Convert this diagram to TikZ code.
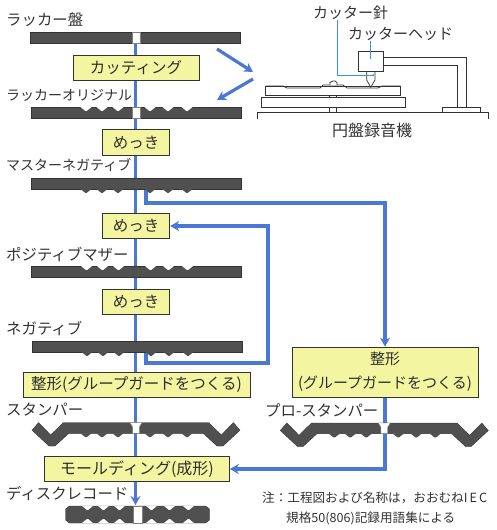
\documentclass[tikz,border=0pt]{standalone}
\usepackage{fontspec}
\setmainfont{Noto Sans CJK JP}
\usetikzlibrary{positioning, arrows.meta, calc, backgrounds}
\definecolor{flowblue}{HTML}{4A78D2}
\definecolor{leadblue}{HTML}{3A96CC}
\definecolor{stepyellow}{HTML}{F3F5A0}
\definecolor{discgray}{HTML}{505050}
\definecolor{inkgray}{HTML}{333333}

\begin{document}
\begin{tikzpicture}[
  x=1pt, y=-1pt,
  stepbox/.style={
    draw=inkgray, fill=stepyellow, line width=0.7pt, inner sep=0pt,
    align=center, text=black!82, font=\fontsize{15.5}{24}\selectfont
  },
  platebox/.style={stepbox, minimum width=67.5pt, minimum height=25.5pt},
  disc/.style={
    draw=inkgray, fill=discgray, line width=0.4pt, inner sep=0pt,
    minimum width=210pt, minimum height=10.5pt
  },
  hole/.style={
    draw=gray, fill=white, line width=0.3pt, inner sep=0pt,
    minimum width=8pt, minimum height=10.5pt
  },
  namelabel/.style={anchor=west, inner sep=0pt, font=\fontsize{15.4}{16}\selectfont, text=black!80},
  longlabel/.style={namelabel, font=\fontsize{14}{16}\selectfont},
  machinelabel/.style={inner sep=0pt, font=\fontsize{15}{16}\selectfont, text=black!80},
  notelabel/.style={inner sep=0pt, font=\fontsize{12.6}{16}\selectfont, text=black!80},
  flow/.style={draw=flowblue, line width=3.2pt},
  flowarrow/.style={flow, -{Stealth[length=9pt, width=10pt]}},
  lead/.style={draw=leadblue, line width=0.8pt},
  machine/.style={draw=inkgray, line width=0.7pt},
  grooves/.pic={
    \foreach \dx in {-50,-34,-18,14,32,51}
      \fill[pic actions] (\dx-5.5,0) -- (\dx-0.8,3.8) -- (\dx+0.8,3.8) -- (\dx+5.5,0) -- cycle;
  },
  stamper/.pic={
    \fill[discgray, draw=inkgray, line width=0.4pt]
      (-104,7.5) -- (-97.5,0) -- (-85.3,12.3) -- (-72.7,0) -- (72.7,0) -- (85.3,12.3)
      -- (97.5,0) -- (104,7.5) -- (87,23.3) -- (81,23.3) -- (67.3,10.6) -- (-67.3,10.6)
      -- (-81,23.3) -- (-87,23.3) -- cycle;
    \pic[fill=discgray] at (0,10.6) {grooves};
    \fill[white, draw=gray, line width=0.3pt]
      (-6,0) -- (6,0) -- (3.4,4) -- (3.4,10.6) -- (-3.4,10.6) -- (-3.4,4) -- cycle;
  },
]

\useasboundingbox (0,0) rectangle (496,530);

% process column
\node[disc] (lacquer) at (135.5,37.5) {};
\node[hole] (lacquerhole) at (135.7,37.5) {};
\node[namelabel] (lacquername) at (6,20) {ラッカー盤};
\node[stepbox, minimum width=126pt, minimum height=25pt] (cutting) at (136,67.5) {カッティング};

\node[disc] (original) at (136,112.5) {};
\pic[fill=white] at (original.north) {grooves};
\node[hole] (originalhole) at (136,112.5) {};
\node[longlabel] (originalname) at (6,95) {ラッカーオリジナル};
\node[platebox] (plating1) at (136,142.5) {めっき};

\node[disc] (master) at (136,183.5) {};
\pic[fill=discgray] at (master.south) {grooves};
\node[longlabel] (mastername) at (6,165) {マスターネガティブ};
\node[platebox] (plating2) at (136,226) {めっき};

\node[disc] (mother) at (136.5,271.5) {};
\pic[fill=white] at (mother.north) {grooves};
\node[namelabel] (mothername) at (6,254) {ポジティブマザー};
\node[platebox] (plating3) at (136,302) {めっき};

\node[disc] (negative) at (137,346.5) {};
\pic[fill=discgray] at (negative.south) {grooves};
\node[namelabel] (negativename) at (6,328) {ネガティブ};
\node[stepbox, minimum width=227pt, minimum height=25pt] (shaping) at (136.5,385) {整形(グループガードをつくる)};

\node[namelabel] (stampername) at (6,410) {スタンパー};
\pic at (136,422.7) {stamper};
\node[stepbox, minimum width=185pt, minimum height=25pt, font=\fontsize{16}{24}\selectfont] (molding) at (137,469) {モールディング(成形)};

\node[namelabel] (recordname) at (6,494) {ディスクレコード};
\coordinate (record) at (137.5,514.5);
\fill[discgray, draw=inkgray, line width=0.4pt]
  ($(record)+(-72,-5.5)$) -- ($(record)+(-68,-8.5)$) -- ($(record)+(68,-8.5)$) -- ($(record)+(72,-5.5)$)
  -- ($(record)+(72,5.5)$) -- ($(record)+(68,8.5)$) -- ($(record)+(-68,8.5)$) -- ($(record)+(-72,5.5)$) -- cycle;
\pic[fill=white] at ($(record)+(0,-8.5)$) {grooves};
\pic[fill=white, yscale=-1] at ($(record)+(0,8.5)$) {grooves};
\node[hole, minimum width=8.5pt, minimum height=17pt] (recordhole) at (record) {};

% second column
\node[stepbox, minimum width=186pt, minimum height=50pt, font=\fontsize{15}{24}\selectfont] (proshaping) at (385,372) {整形\\(グループガードをつくる)};
\node[namelabel] (proname) at (265,410) {プロ-スタンパー};
\pic at (384.3,423) {stamper};

\node[notelabel, anchor=west] (note1) at (262,498) {注：工程図および名称は，おおむねI\,E\,C};
\node[notelabel, anchor=west] (note2) at (286,518) {規格50(806)記録用語集による};

% connectors behind the plates
\begin{pgfonlayer}{background}
  \coordinate (recordtop) at (lacquer.south |- 0,505);
  \draw[flowarrow] (lacquer.south) -- (recordtop);
  \coordinate (masterout) at (146,189);
  \draw[flowarrow] (masterout) |- (385,203) -- (proshaping.north -| 385,0);
  \coordinate (negativeout) at (146,352);
  \draw[flowarrow] (negativeout) |- (268,363) |- (plating2.east);
  \draw[flowarrow] (proshaping.south -| 385,0) |- (molding.east);
\end{pgfonlayer}

% cutting to machine and back
\coordinate (cutfrom) at (217,49);
\coordinate (cutto) at (253,72);
\coordinate (backfrom) at (253,79);
\coordinate (backto) at (217,100);
\draw[flowarrow] (cutfrom) -- (cutto);
\draw[flowarrow] (backfrom) -- (backto);

% disc cutting machine
\draw[machine] (257.3,119.3) |- (488.3,112) -- (488.3,119.3);
\draw[machine] (442.3,112) |- (480.7,107.3) -- (480.7,112);
\draw[machine] (383.3,57.3) -| (466,107.3);
\draw[machine] (383.3,65) -| (457.3,107.3);
\draw[machine, fill=white] (261.7,97.3) rectangle (405.7,107.3);
\draw[machine, fill=white] (265.7,95) |- (400.7,86) -- (400.7,95) -- cycle;
\draw[machine] (265.7,86) -- (283,86) -- (287,88) -- (320,88) -- (323,85) -- (343,85) -- (347,88) -- (378,88) -- (382,86) -- (400.7,86);
\draw[machine, fill=white] (330,85) -- (330,82.5) -- (333,81) -- (335,81) -- (337,82.5) -- (337,85);
\draw[machine] (329.5,95) -- (329.5,97.3) (336.5,95) -- (336.5,97.3);
\draw[machine] (329.5,107.3) -- (329.5,112) (336.5,107.3) -- (336.5,112);
\draw[machine, fill=white] (366.7,71.7) -- (366.7,80) -- (370.7,87.3) -- (375,80) -- (375,71.7);
\node[draw=inkgray, line width=0.7pt, fill=white, inner sep=0pt, minimum width=25pt, minimum height=20pt] (head) at (370.8,61.7) {};
\node[machinelabel, anchor=west] (needlename) at (313,13) {カッター針};
\node[machinelabel, anchor=west] (headname) at (348,34) {カッターヘッド};
\node[machinelabel, font=\fontsize{16}{16}\selectfont] (machinename) at (372,130) {円盤録音機};
\coordinate (needletip) at (373.3,75);
\coordinate (needlelead) at (337.3,20);
\fill[leadblue] (370.7,58) circle (1pt);
\fill[leadblue] (needletip) circle (1pt);
\draw[lead] (headname.south -| 370.7,0) -- (370.7,58);
\draw[lead] (needlelead) |- (needletip);

\end{tikzpicture}
\end{document}
